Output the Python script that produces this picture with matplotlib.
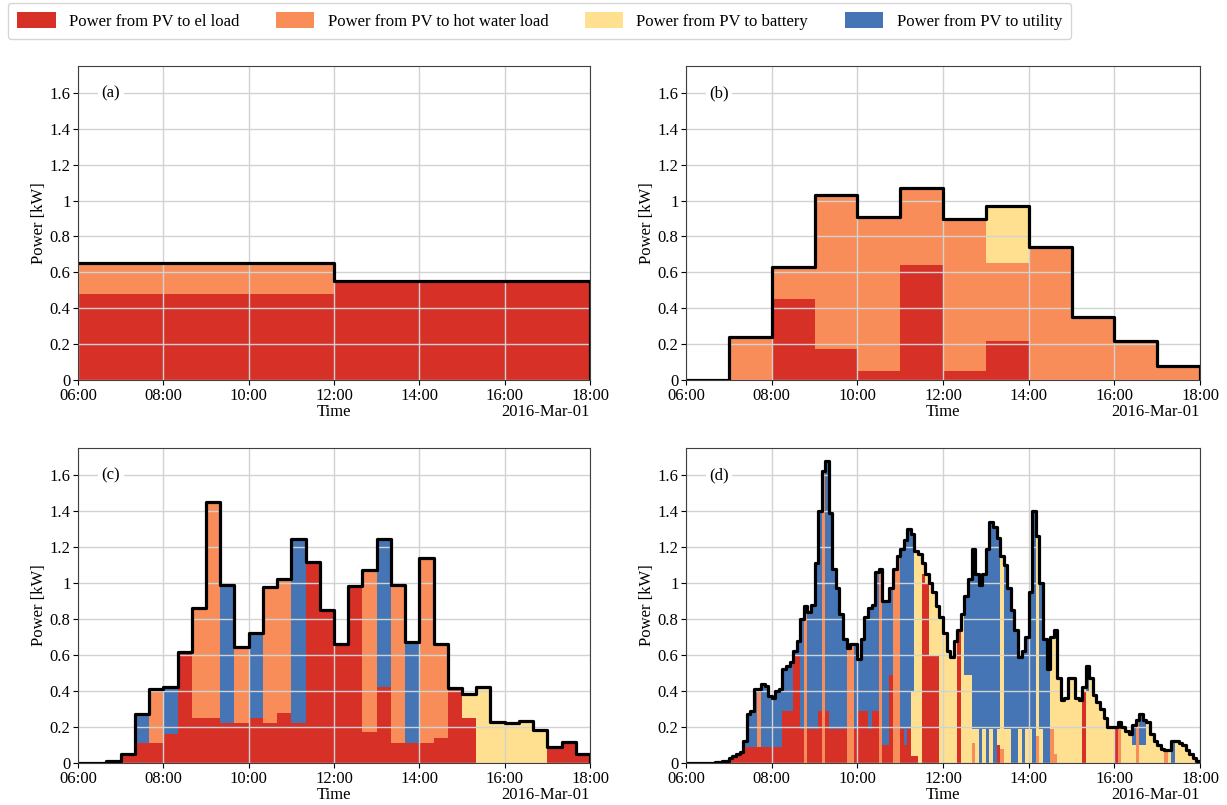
import numpy as np
import pandas as pd
import matplotlib
matplotlib.use('Agg')
import matplotlib.pyplot as plt
import matplotlib.dates as mdates
from matplotlib.patches import Patch
from matplotlib.ticker import FormatStrFormatter

plt.rcParams['font.family'] = ['Liberation Serif', 'DejaVu Serif']
plt.rcParams['font.size'] = 12

day_start = '2016-03-01 06:00'
flow_labels = ['Power from PV to el load', 'Power from PV to hot water load',
               'Power from PV to battery', 'Power from PV to utility']
flow_colors = ['#d73027', '#f88d59', '#fee090', '#4575b4']
y_ticks = [0, 0.2, 0.4, 0.6, 0.8, 1.0, 1.2, 1.4, 1.6]

# (a) 6 hour resolution
a_el = [0.48, 0.55]
a_hw = [0.17, 0.00]
a_bat = [0.00, 0.00]
a_util = [0.00, 0.00]

# (b) hourly resolution
b_el = [0, 0, 0.45, 0.17, 0.05, 0.64, 0.05, 0.22, 0, 0, 0, 0]
b_hw = [0, 0.24, 0.18, 0.86, 0.86, 0.43, 0.85, 0.43, 0.74, 0.35, 0.22, 0.08]
b_bat = [0, 0, 0, 0, 0, 0, 0, 0.32, 0, 0, 0, 0]
b_util = [0, 0, 0, 0, 0, 0, 0, 0, 0, 0, 0, 0]

# (c) 20 min resolution
c_el = [0, 0, 0.01, 0.05, 0.11, 0.11, 0.16, 0.615, 0.25, 0.25, 0.22, 0.22,
        0.25, 0.22, 0.28, 0.22, 1.115, 0.85, 0.66, 0.985, 0.17, 0.42, 0.11, 0.11,
        0.11, 0.14, 0.415, 0.25, 0, 0, 0, 0, 0, 0.09, 0.115, 0.05]
c_hw = [0, 0, 0, 0, 0, 0.30, 0, 0, 0.61, 1.20, 0, 0.425,
        0, 0.76, 0.74, 0, 0, 0, 0, 0, 0.905, 0, 0.88, 0,
        1.03, 0.52, 0, 0, 0, 0, 0, 0, 0, 0, 0, 0]
c_bat = [0, 0, 0, 0, 0, 0, 0, 0, 0, 0, 0, 0,
         0, 0, 0, 0, 0, 0, 0, 0, 0, 0, 0, 0,
         0, 0, 0, 0.135, 0.425, 0.23, 0.22, 0.235, 0.185, 0, 0, 0]
c_util = [0, 0, 0, 0, 0.16, 0, 0.26, 0, 0, 0, 0.77, 0,
          0.47, 0, 0, 1.025, 0, 0, 0, 0, 0, 0.825, 0, 0.56,
          0, 0, 0, 0, 0, 0, 0, 0, 0, 0, 0, 0]

# (d) 5 min resolution, one row per hour
d_total = [0, 0, 0, 0, 0, 0, 0, 0, 0.005, 0.005, 0.01, 0.01,
           0.03, 0.04, 0.05, 0.06, 0.12, 0.27, 0.29, 0.41, 0.41, 0.44, 0.43, 0.37,
           0.36, 0.40, 0.41, 0.52, 0.54, 0.56, 0.62, 0.68, 0.80, 0.87, 0.84, 0.88,
           1.11, 1.40, 1.62, 1.68, 1.39, 1.08, 0.97, 0.83, 0.69, 0.64, 0.66, 0.66,
           0.58, 0.69, 0.81, 0.86, 0.88, 1.06, 1.08, 0.90, 0.90, 0.97, 1.08, 1.15,
           1.19, 1.24, 1.30, 1.27, 1.18, 1.16, 1.11, 1.05, 1.00, 0.95, 0.87, 0.81,
           0.72, 0.62, 0.59, 0.68, 0.74, 0.83, 0.93, 1.02, 1.19, 1.05, 0.99, 1.05,
           1.19, 1.34, 1.31, 1.25, 1.15, 1.10, 0.97, 0.85, 0.74, 0.59, 0.62, 0.70,
           0.95, 1.40, 1.26, 1.00, 0.69, 0.52, 0.70, 0.74, 0.47, 0.35, 0.36, 0.47,
           0.47, 0.36, 0.35, 0.42, 0.54, 0.47, 0.38, 0.34, 0.30, 0.25, 0.20, 0.20,
           0.20, 0.23, 0.20, 0.18, 0.16, 0.21, 0.24, 0.27, 0.24, 0.23, 0.16, 0.12,
           0.10, 0.08, 0.07, 0.07, 0.12, 0.12, 0.11, 0.10, 0.07, 0.05, 0.03, 0.01]
d_el = [0, 0, 0, 0, 0, 0, 0, 0, 0.005, 0.005, 0.01, 0.01,
        0.03, 0.04, 0.05, 0.06, 0.09, 0.09, 0.09, 0.09, 0.09, 0.09, 0.09, 0.09,
        0.09, 0.09, 0.09, 0.29, 0.29, 0.29, 0.60, 0.60, 0.19, 0, 0.19, 0.19,
        0.19, 0.29, 0, 0.29, 0.19, 0.19, 0.19, 0.19, 0.19, 0, 0, 0.19,
        0.29, 0.29, 0.29, 0.19, 0.29, 0.29, 0, 0.10, 0.10, 0.49, 0, 0,
        0.19, 0.10, 0.19, 0.04, 0.04, 0, 1.05, 1.00, 0.60, 0.60, 0.60, 0,
        0, 0, 0, 0, 0.74, 0, 0, 0, 0, 0, 0, 0,
        0, 0, 0, 0.10, 0, 0, 0, 0, 0, 0, 0, 0,
        0, 0, 0, 0, 0, 0, 0, 0, 0, 0, 0, 0,
        0, 0, 0, 0.40, 0, 0, 0, 0, 0, 0, 0, 0,
        0.20, 0, 0, 0, 0, 0, 0, 0, 0, 0, 0, 0,
        0, 0, 0, 0, 0, 0, 0, 0, 0, 0, 0, 0.01]
d_hw = [0, 0, 0, 0, 0, 0, 0, 0, 0, 0, 0, 0,
        0, 0, 0, 0, 0, 0, 0, 0, 0.32, 0, 0, 0,
        0, 0, 0, 0, 0, 0, 0, 0, 0, 0.87, 0, 0,
        0, 0, 1.62, 0, 0, 0, 0, 0, 0, 0.64, 0.66, 0,
        0, 0, 0, 0, 0, 0, 1.08, 0, 0, 0, 1.08, 1.15,
        0, 0, 0, 0, 0, 0, 0, 0, 0, 0, 0, 0,
        0, 0, 0, 0, 0, 0, 0, 0, 0.11, 0, 0, 0,
        0, 0, 0, 0, 0.08, 0, 0, 0, 0, 0, 0, 0,
        0, 0, 0.15, 0, 0, 0, 0.19, 0.05, 0, 0, 0, 0,
        0, 0, 0, 0, 0, 0, 0, 0, 0, 0, 0, 0,
        0, 0.23, 0, 0, 0, 0, 0.24, 0, 0, 0, 0, 0,
        0, 0, 0.07, 0, 0, 0, 0, 0, 0, 0, 0, 0]
d_bat = [0, 0, 0, 0, 0, 0, 0, 0, 0, 0, 0, 0,
         0, 0, 0, 0, 0, 0, 0, 0, 0, 0, 0, 0,
         0, 0, 0, 0, 0, 0, 0, 0, 0, 0, 0, 0,
         0, 0, 0, 0, 0, 0, 0, 0, 0, 0, 0, 0,
         0, 0, 0, 0, 0, 0, 0, 0, 0, 0, 0, 0,
         0, 0, 0, 0.36, 1.14, 1.16, 0.06, 0.05, 0.40, 0.35, 0.27, 0.81,
         0.72, 0.62, 0.59, 0.68, 0, 0.83, 0.49, 0.49, 0.08, 0.19, 0, 0.19,
         0, 0.19, 0, 0.09, 1.07, 0.19, 0.19, 0, 0, 0.19, 0, 0.19,
         0.19, 0, 1.11, 0.19, 0, 0, 0.51, 0.69, 0.47, 0.35, 0.36, 0.47,
         0.47, 0.36, 0.35, 0.02, 0.40, 0.47, 0.38, 0.34, 0.30, 0.25, 0.20, 0.20,
         0, 0, 0.20, 0.18, 0.16, 0.10, 0, 0.10, 0.10, 0.23, 0.16, 0.12,
         0.10, 0.08, 0, 0.07, 0, 0.12, 0.11, 0.10, 0.07, 0.05, 0.03, 0]
# whatever is left goes to the grid
d_util = np.clip(np.array(d_total) - np.array(d_el) - np.array(d_hw) - np.array(d_bat), 0, None)


def draw_panel(ax, freq, flows, tag):
    n = len(flows[0])
    edges = mdates.date2num(pd.date_range(day_start, periods=n + 1, freq=freq))
    base = np.zeros(n + 1)
    for vals, col in zip(flows, flow_colors):
        v = np.append(vals, vals[-1])
        ax.fill_between(edges, base, base + v, step='post', color=col,
                        lw=0, antialiased=False)
        base = base + v
    ax.plot(np.append(edges, edges[-1]), np.append(base, 0), drawstyle='steps-post',
            color='black', lw=2.3)

    ax.set_xlim(edges[0], edges[-1])
    ax.set_ylim(0, 1.75)
    loc = mdates.HourLocator(byhour=range(6, 19, 2))
    ax.xaxis.set_major_locator(loc)
    ax.xaxis.set_major_formatter(mdates.ConciseDateFormatter(loc, show_offset=False))
    ax.set_yticks(y_ticks)
    ax.yaxis.set_major_formatter(FormatStrFormatter('%g'))
    ax.tick_params(labelsize=12, pad=2)
    for sp in ax.spines.values():
        sp.set_color('0.25')
    ax.grid(True, color='#d2d2d2', lw=1.0)
    ax.set_xlabel('Time', fontsize=12)
    ax.xaxis.set_label_coords(0.5, -0.076)
    ax.set_ylabel('Power [kW]', fontsize=12, labelpad=2)
    ax.annotate('2016-Mar-01', xy=(1, 0), xycoords='axes fraction', xytext=(0, -32),
                textcoords='offset pixels', ha='right', va='center', fontsize=12)
    ax.text(0.064, 1.6 / 1.75, tag, transform=ax.transAxes, ha='center', va='center',
            fontsize=12, bbox=dict(facecolor='white', edgecolor='none', pad=2.5))


fig = plt.figure(figsize=(12.27, 8.05), dpi=100)
W, H = 1227, 805
boxes = [(78, 66, 590, 380), (686, 66, 1200, 380), (78, 448, 590, 763), (686, 448, 1200, 763)]
axes = [fig.add_axes([l / W, 1 - b / H, (r - l) / W, (b - t) / H]) for l, t, r, b in boxes]

draw_panel(axes[0], '6h', [a_el, a_hw, a_bat, a_util], '(a)')
draw_panel(axes[1], '1h', [b_el, b_hw, b_bat, b_util], '(b)')
draw_panel(axes[2], '20min', [c_el, c_hw, c_bat, c_util], '(c)')
draw_panel(axes[3], '5min', [d_el, d_hw, d_bat, d_util], '(d)')

handles = [Patch(facecolor=c, edgecolor='none') for c in flow_colors]
fig.legend(handles, flow_labels, loc='upper left', bbox_to_anchor=(8 / W, 1 - 3 / H),
           ncol=4, fontsize=12, handlelength=2.3, handleheight=1.1, borderpad=0.55,
           columnspacing=2.2, borderaxespad=0, frameon=True)

fig.savefig('out.png', dpi=100)
